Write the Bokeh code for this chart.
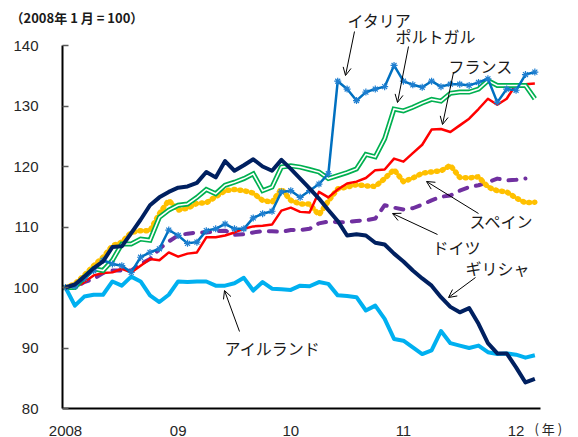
from bokeh.plotting import figure
from bokeh.models import Range1d, FixedTicker, Label, Arrow, OpenHead
from bokeh.embed import file_html
from bokeh.resources import INLINE

# ---- data (index 0 = Jan 2008, monthly) ----
months = list(range(51))
year_ticks = [0, 12, 24, 36, 48]
year_labels = ["2008", "09", "10", "11", "12"]
y_ticks = [80, 90, 100, 110, 120, 130, 140]

greece = [100, 100.5, 101.8, 103.2, 104.3, 106.7, 106.8, 109.0, 111.2, 113.6,
          114.9, 115.8, 116.5, 116.7, 117.3, 119.1, 118.2, 120.9, 119.3, 120.2,
          121.2, 120.0, 119.3, 121.1, 119.6, 118.0, 116.4, 114.7, 112.8, 111.0,
          108.6, 108.8, 108.6, 107.4, 107.1, 105.6, 104.3, 102.8, 101.5, 100.3,
          98.4, 96.8, 95.9, 96.6, 94.0, 90.8, 89.1, 89.1, 86.8, 84.3, 84.9]
ireland = [100, 97, 98.5, 98.8, 98.8, 101, 100.3, 101.8, 101, 98.7,
           97.6, 98.8, 101, 100.9, 101, 101, 100.3, 100.3, 100.7, 101.6,
           99.5, 100.9, 99.8, 99.7, 99.6, 100.3, 100.2, 100.9, 100.6, 98.7,
           98.6, 98.4, 96.2, 97, 94.8, 91.5, 91.2, 90.1, 89, 89.6,
           92.8, 90.8, 90.4, 90, 90.4, 89.3, 89, 89.1, 88.9, 88.4, 88.8]
italy = [100, 100.2, 101.5, 102.8, 104.5, 103.9, 103.6, 102.5, 105, 105.8,
         106.4, 109.5, 108.6, 107.3, 107.5, 109.4, 109.7, 110.5, 109.7, 109.7,
         111.5, 112.2, 112.6, 115.8, 116, 114.9, 116, 117.1, 118.8, 134.1,
         132.8, 130.9, 132.3, 132.8, 133.2, 136.7, 134.1, 133.5, 133.1, 134.1,
         133.2, 133.6, 133.6, 133.4, 133.9, 134.5, 130.6, 132.8, 132.6, 135.2, 135.6]
france = [100, 100, 100.9, 102, 102.4, 102.5, 103.1, 102.5, 103.6, 104.7,
          104.5, 105.8, 105.1, 105.6, 105.8, 108.3, 108.3, 108.6, 109.1, 109.7,
          110.1, 110.2, 110.4, 112.7, 113.2, 112.5, 112.4, 115.8, 114.9, 116.2,
          117.2, 117.5, 118.1, 119.4, 119.5, 121.3, 120.8, 122.2, 123.6, 126.1,
          126.2, 125.7, 126.8, 127.9, 129.5, 131.2, 130.2, 131.2, 133.6, 133.6, 133.7]
portugal = [100, 100, 101.7, 103.1, 102.8, 104.5, 107.2, 107.2, 108, 107.8,
            111.6, 112.8, 113.6, 113.8, 114.9, 116.2, 115.5, 116.9, 117.4, 118,
            118.8, 116, 116.6, 119.9, 120.1, 119.9, 119.5, 119.1, 118, 118.5,
            119, 119.6, 122, 121.6, 124.6, 129.5, 129.2, 129.8, 130.5, 131.1,
            130.8, 132.1, 132.3, 132.3, 132.8, 134.2, 133.4, 133.4, 133.4, 133.4, 131.2]
spain = [100, 100.6, 102, 103.6, 105, 106.9, 107.5, 109.1, 109.4, 109.4,
         112.2, 114.4, 112.8, 113.1, 113.9, 114, 115, 116, 116.2, 116,
         115.6, 114.4, 114.1, 116.3, 114.4, 113.8, 113.8, 112, 114.3, 116.3,
         116.6, 117, 116.8, 116.7, 118, 119.5, 117.5, 118.1, 118.9, 119.1,
         119.3, 120.2, 118.2, 118.1, 118.3, 116.6, 116, 115.8, 114.8, 114, 114.1]
germany = [100, 100, 100.9, 101.4, 102.4, 102.8, 102.8, 102.8, 103.9, 104.7,
           106.4, 107.6, 108.6, 108.9, 109.1, 109.1, 109.3, 109.4, 108.7, 108.8,
           109.1, 109.3, 109.3, 109.2, 109.5, 109.5, 109.7, 110.6, 110.9, 110.8,
           110.8, 111, 111.1, 111.4, 113.6, 113.2, 112.9, 113.1, 113.7, 114.4,
           115, 115.2, 116, 116.6, 116.9, 117.4, 118, 117.7, 117.8, 118]
germany_months = months[:len(germany)]

JP = "Noto Sans CJK JP"
NUM = "Liberation Sans"

W, H = 578, 437
PX_PER_MONTH = 9.387
PX_PER_UNIT = 6.05


def dx(px):
    return (px - 65) / PX_PER_MONTH


def dy(py):
    return 140 - (py - 45) / PX_PER_UNIT


p = figure(width=W, height=H, output_backend="svg", toolbar_location=None,
           x_range=Range1d(dx(0), dx(W)), y_range=Range1d(dy(H), dy(0)),
           min_border=0, min_border_left=0, min_border_right=0,
           min_border_top=0, min_border_bottom=0)
p.outline_line_color = None
p.xgrid.visible = False
p.ygrid.visible = False
p.background_fill_color = "white"
p.border_fill_color = "white"

# axes (fixed inside the frame so that surrounding texts are not clipped)
p.yaxis.fixed_location = dx(62)
p.yaxis.bounds = (80, 140)
p.yaxis.ticker = FixedTicker(ticks=y_ticks)
p.yaxis.major_tick_in = 6
p.yaxis.major_tick_out = 0
p.yaxis.minor_tick_line_color = None
p.yaxis.major_tick_line_color = "#595959"
p.yaxis.major_tick_line_width = 1.5
p.yaxis.axis_line_width = 2
p.yaxis.axis_line_color = "black"
p.yaxis.major_label_standoff = 24
p.yaxis.major_label_text_font = NUM
p.yaxis.major_label_text_font_size = "15px"
p.yaxis.major_label_text_color = "#262626"

p.xaxis.fixed_location = 80
p.xaxis.bounds = (dx(62), dx(540))
p.xaxis.ticker = FixedTicker(ticks=year_ticks)
p.xaxis.major_label_overrides = {t: s for t, s in zip(year_ticks, year_labels)}
p.xaxis.major_tick_line_color = None
p.xaxis.minor_tick_line_color = None
p.xaxis.axis_line_width = 2
p.xaxis.axis_line_color = "black"
p.xaxis.major_label_standoff = 11
p.xaxis.major_label_text_font = NUM
p.xaxis.major_label_text_font_size = "15px"
p.xaxis.major_label_text_color = "#262626"

# series
p.line(months, ireland, line_color="#00B0F0", line_width=4, line_join="round")
p.line(germany_months, germany, line_color="#7030A0", line_width=4,
       line_dash="8 9", line_cap="round", line_join="round")
p.line(months, spain, line_color="#FFC000", line_width=2, line_join="round")
p.line(months, spain, line_color="#FFC000", line_width=5.5, line_dash="1 5",
       line_cap="round", line_join="round")
p.line(months, france, line_color="#FF0000", line_width=2.5, line_join="round")
p.line(months, portugal, line_color="#00B050", line_width=5, line_join="miter")
p.line(months, portugal, line_color="white", line_width=1.6, line_join="miter")
p.line(months, italy, line_color="#0070C0", line_width=2.5, line_join="round")
p.scatter(months, italy, marker="asterisk", size=7, line_color="#1F7FD0",
          line_width=1.2)
p.line(months, greece, line_color="#002060", line_width=4, line_join="round")

labels = [
    ("イタリア", 379, 19),
    ("ポルトガル", 435, 35),
    ("フランス", 480, 65),
    ("スペイン", 501, 220),
    ("ドイツ", 456, 246),
    ("ギリシャ", 497, 267),
    ("アイルランド", 272, 347),
]
for txt, lx, ly in labels:
    p.add_layout(Label(x=dx(lx), y=dy(ly), text=txt, text_align="center",
                       text_baseline="middle", text_font=JP,
                       text_font_size="16px", text_color="#1a1a1a"))

arrows = [
    (354, 31, 345, 75),
    (408, 46, 397, 102),
    (453, 72, 442, 124),
    (478, 213, 426, 181),
    (437, 234, 392, 213),
    (475, 277, 448, 297),
    (239, 331, 224, 290),
]
for x0, y0, x1, y1 in arrows:
    p.add_layout(Arrow(x_start=dx(x0), y_start=dy(y0), x_end=dx(x1), y_end=dy(y1),
                       line_width=1, line_color="black",
                       end=OpenHead(size=8, line_width=1, line_color="black")))

p.add_layout(Label(x=dx(10), y=dy(17), text="（2008年 1 月 = 100）",
                   text_align="left", text_baseline="middle", text_font=JP,
                   text_font_size="13px", text_font_style="bold",
                   text_color="#1a1a1a"))
p.add_layout(Label(x=dx(534), y=dy(428), text="( 年 )", text_align="left",
                   text_baseline="middle", text_font=JP,
                   text_font_size="13px", text_color="#262626"))

open("out.html", "w").write(file_html(p, INLINE))
